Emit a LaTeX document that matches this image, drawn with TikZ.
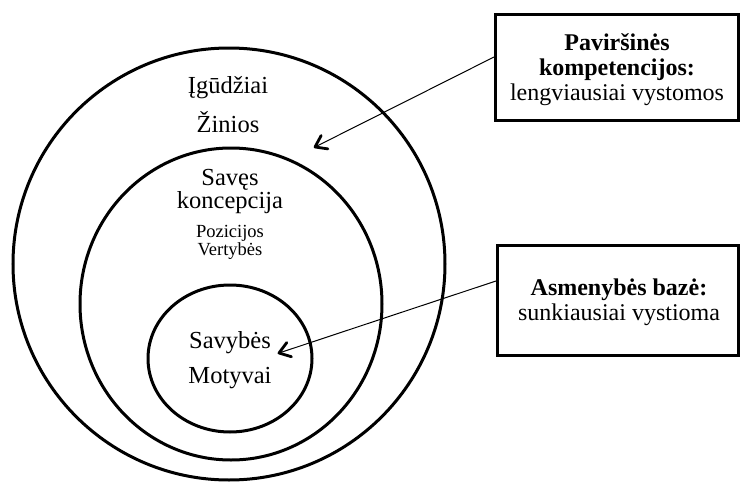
\documentclass[tikz,border=0pt]{standalone}
\usepackage{fontspec}
\setmainfont{Liberation Serif}
\usetikzlibrary{shapes.geometric,arrows.meta,calc}
\begin{document}
\begin{tikzpicture}[x=1pt,y=-1pt,
  ring/.style={draw,ellipse,line width=3pt,inner sep=0pt},
  infobox/.style={draw,rectangle,line width=3pt,inner sep=0pt},
  lbl/.style={font=\fontsize{24.5}{23}\selectfont,align=center,inner sep=0pt},
  small/.style={font=\fontsize{18.5}{18}\selectfont,align=center,inner sep=0pt},
  boxtxt/.style={font=\fontsize{24}{25}\selectfont,align=center,inner sep=0pt},
  pointer/.style={line width=1pt},
  barb/.style={line width=2.8pt,line cap=round,line join=round}]
\useasboundingbox (0,0) rectangle (740,482);
% rings
\node[ring,minimum width=432pt,minimum height=432pt] (outer) at (229,264) {};
\node[ring,minimum width=302pt,minimum height=312pt] (middle) at (231,304) {};
\node[ring,minimum width=164pt,minimum height=147pt] (inner) at (230,358.5) {};
% ring texts
\node[lbl] (t1) at (228,88) {Įgūdžiai};
\node[lbl] (t2) at (228,122) {Žinios};
\node[lbl] (t3) at (230,191) {Savęs\\koncepcija};
\node[small] (t4) at (230,242) {Pozicijos\\Vertybės};
\node[lbl] (t5) at (230,343) {Savybės};
\node[lbl] (t6) at (230,378) {Motyvai};
% boxes
\node[infobox,minimum width=243pt,minimum height=106pt] (box1) at (617,67) {};
\node[infobox,minimum width=241pt,minimum height=110pt] (box2) at (618,300) {};
\node[boxtxt] (b1) at (617,70) {\textbf{Paviršinės}\\\textbf{kompetencijos:}\\lengviausiai vystomos};
\node[boxtxt] (b2) at (619,302) {\textbf{Asmenybės bazė:}\\sunkiausiai vystioma};
% arrows
\coordinate (a1s) at ($(box1.west)+(0,-10)$);
\coordinate (a1e) at (315,147);
\coordinate (a2s) at ($(box2.west)+(0,-19)$);
\coordinate (a2e) at (279,353);
\draw[pointer] (a1s) -- (a1e);
\draw[pointer] (a2s) -- (a2e);
\draw[barb] ($(a1e)!13pt!35:(a1s)$) -- (a1e) -- ($(a1e)!13pt!-35:(a1s)$);
\draw[barb] ($(a2e)!13pt!35:(a2s)$) -- (a2e) -- ($(a2e)!13pt!-35:(a2s)$);
\end{tikzpicture}
\end{document}
